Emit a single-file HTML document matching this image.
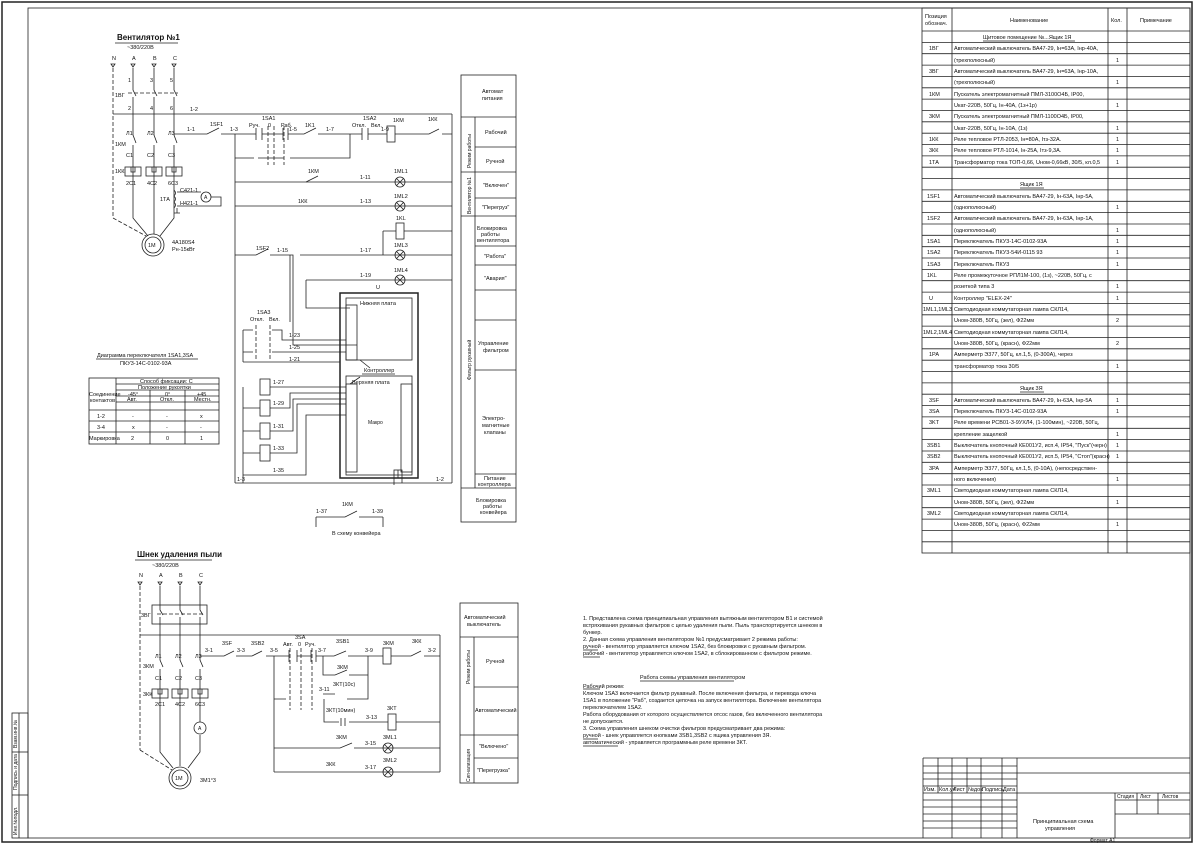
<!DOCTYPE html>
<html><head><meta charset="utf-8"><style>
html,body{margin:0;padding:0;background:#fff}
svg{display:block}
text{font-family:"Liberation Sans Narrow","Liberation Sans","DejaVu Sans",sans-serif;fill:#111;font-size:5.5px}
.t{font-size:5px}
.b{font-weight:bold;font-size:8px}
line,path,rect,circle,polyline{stroke:#222;stroke-width:0.8;fill:none}
.d{stroke-dasharray:4 2}
.th{stroke-width:1.5}
</style></head><body>
<svg width="1194" height="845" viewBox="0 0 1194 845" xmlns="http://www.w3.org/2000/svg">
<defs>
<g id="lamp"><circle r="5"/><line x1="-3.5" y1="-3.5" x2="3.5" y2="3.5"/><line x1="-3.5" y1="3.5" x2="3.5" y2="-3.5"/></g>
<g id="kk"><rect x="-8" y="-4" width="16" height="9"/><path d="M-2,-4 v5 h4 v-5"/></g>
<g id="tri"><path d="M-2,0 h4 l-2,3 z"/></g>
</defs>
<!-- frames -->
<rect x="2" y="2" width="1190" height="840" class="th"/>
<rect x="28" y="8" width="1162" height="830"/>
<!-- left stamp -->
<rect x="12" y="713" width="16" height="125"/><line x1="19" y1="713" x2="19" y2="838"/>
<line x1="12" y1="752" x2="28" y2="752"/><line x1="12" y1="795" x2="28" y2="795"/>
<text transform="translate(17,835) rotate(-90)" class="t">Инв.№подл.</text>
<text transform="translate(17,790) rotate(-90)" class="t">Подпись и дата</text>
<text transform="translate(17,748) rotate(-90)" class="t">Взам.инв.№</text>

<!-- ===== Upper circuit ===== -->
<text x="117" y="40" class="b" style="font-size:8px">Вентилятор №1</text>
<line x1="115" y1="43" x2="178" y2="43"/>
<text x="127" y="49">~380/220В</text>
<text x="112" y="60">N</text><text x="132" y="60">A</text><text x="153" y="60">B</text><text x="173" y="60">C</text>
<use href="#tri" x="113" y="64"/><use href="#tri" x="133" y="64"/><use href="#tri" x="154" y="64"/><use href="#tri" x="174" y="64"/>
<line x1="113" y1="68" x2="113" y2="218" class="d"/><line x1="113" y1="218" x2="146" y2="236" class="d"/>
<path d="M133,68 V90 l3,6 M133,97 V135 l3,8 M133,145 V218 L148,236"/>
<path d="M154,68 V90 l3,6 M154,97 V135 l3,8 M154,145 V234"/>
<path d="M174,68 V90 l3,6 M174,97 V135 l3,8 M174,145 V218 L160,236"/>
<line x1="128" y1="93" x2="178" y2="93" class="d"/>
<text x="115" y="97">1ВГ</text><text x="115" y="146">1КМ</text><text x="115" y="173">1КК</text>
<text x="128" y="82">1</text><text x="150" y="82">3</text><text x="170" y="82">5</text>
<text x="128" y="110">2</text><text x="150" y="110">4</text><text x="170" y="110">6</text>
<text x="126" y="135">Л1</text><text x="147" y="135">Л2</text><text x="168" y="135">Л3</text>
<text x="126" y="157">C1</text><text x="147" y="157">C2</text><text x="168" y="157">C3</text>
<use href="#kk" x="133" y="171"/><use href="#kk" x="154" y="171"/><use href="#kk" x="174" y="171"/>
<text x="126" y="185">2C1</text><text x="147" y="185">4C2</text><text x="168" y="185">6C3</text>
<circle cx="153" cy="245" r="11"/><circle cx="153" cy="245" r="8"/><text x="148" y="247">1M</text>
<text x="172" y="244">4А180S4</text><text x="172" y="251">Pн-15кВт</text>
<path d="M174,190 q3,3 0,6 q3,3 0,6 q3,3 0,6"/><text x="160" y="201">1ТА</text>
<circle cx="206" cy="197" r="5"/><text x="204" y="199" class="t">A</text>
<text x="180" y="192">С421-1</text><text x="180" y="205">Н421-1</text>
<path d="M177,192 H201 M211,197 H221 V206 H177 M177,208 V213 M174,213 h6"/>
<!-- bus -->
<line x1="113" y1="114" x2="452" y2="114"/><text x="190" y="111">1-2</text>
<line x1="452" y1="114" x2="452" y2="483"/>
<line x1="235" y1="134" x2="235" y2="483"/><line x1="235" y1="483" x2="452" y2="483"/>
<text x="237" y="481">1-3</text><text x="436" y="481">1-2</text>
<!-- row1 -->
<path d="M174,134 H207 l12,-6 M221,134 H256 M262,134 H283 M288,134 H304 l12,-6 M318,134 H362 M368,134 H387 M395,134 H429 l10,-5 M442,134 H452"/>
<path d="M256,128 v12 M262,128 v12 M283,128 v12 M288,128 v12 M362,128 v12 M368,128 v12"/>
<rect x="387" y="126" width="8" height="16"/>
<line x1="268" y1="126" x2="268" y2="165" class="d"/><line x1="274" y1="126" x2="274" y2="165" class="d"/><line x1="284" y1="126" x2="284" y2="165" class="d"/>
<text x="187" y="131">1-1</text><text x="210" y="126">1SF1</text><text x="230" y="131">1-3</text>
<text x="262" y="120">1SA1</text><text x="249" y="127">Руч.</text><text x="268" y="127">0</text><text x="281" y="127">Раб.</text>
<text x="289" y="131">1-5</text><text x="305" y="127">1K1</text><text x="326" y="131">1-7</text>
<text x="363" y="120">1SA2</text><text x="352" y="127">Откл.</text><text x="371" y="127">Вкл.</text><text x="381" y="131">1-9</text>
<text x="393" y="122">1КМ</text><text x="428" y="121">1КК</text>
<path d="M235,158 H254 M258,158 H284 M290,158 H350 V134"/>
<!-- row2 lamps -->
<line x1="235" y1="182" x2="452" y2="182"/>
<line x1="306" y1="182" x2="318" y2="176"/><text x="308" y="173">1КМ</text><text x="360" y="179">1-11</text>
<use href="#lamp" x="400" y="182"/><text x="394" y="173">1ML1</text>
<line x1="235" y1="206" x2="452" y2="206"/><text x="298" y="203">1КК</text><text x="360" y="203">1-13</text>
<use href="#lamp" x="400" y="206"/><text x="394" y="198">1ML2</text>
<path d="M383,231 H396 M404,231 H452 M383,231 V255"/><rect x="396" y="223" width="8" height="16"/><text x="396" y="220">1KL</text>
<path d="M235,255 H256 l12,-6 M270,255 H293 V345 H357 M300,255 H452"/><text x="256" y="250">1SF2</text><text x="277" y="252">1-15</text><text x="360" y="252">1-17</text>
<use href="#lamp" x="400" y="255"/><text x="394" y="247">1ML3</text>
<path d="M306,280 V308 H350 M306,280 H452"/><use href="#lamp" x="400" y="280"/><text x="394" y="272">1ML4</text><text x="360" y="277">1-19</text>
<text x="376" y="289">U</text>
<!-- controller -->
<rect x="340" y="293" width="78" height="185" class="th"/>
<rect x="346" y="298" width="66" height="62"/><text x="360" y="305">Нижняя плата</text>
<rect x="346" y="305" width="11" height="55"/>
<rect x="346" y="376" width="66" height="99"/><text x="352" y="384">Верхняя плата</text>
<text x="364" y="372">Контроллер</text><line x1="362" y1="374" x2="395" y2="374"/>
<rect x="346" y="384" width="11" height="88"/><rect x="401" y="384" width="11" height="88"/>
<path d="M360,360 L370,368 M350,384 L360,377"/>
<text x="368" y="424" class="t">Макро</text>
<rect x="394" y="470" width="8" height="8"/><line x1="398" y1="470" x2="398" y2="478"/>
<path d="M394,478 V485 M402,478 V483"/>
<!-- 1SA3 -->
<text x="257" y="314">1SA3</text><text x="250" y="321">Откл.</text><text x="269" y="321">Вкл.</text>
<path d="M243,330 H253 M243,330 V362 M243,352 H253 M243,362 H340"/>
<line x1="256" y1="325" x2="256" y2="360" class="d"/><line x1="270" y1="325" x2="270" y2="360" class="d"/>
<path d="M272,330 H282 V340 H346 M272,352 H346 M290,255 V322"/>
<text x="289" y="337">1-23</text><text x="289" y="349">1-25</text><text x="289" y="361">1-21</text>
<!-- relays -->
<path d="M243,387 V475 M243,408 H260 M243,431 H260 M243,453 H260"/>
<rect x="260" y="379" width="10" height="16"/><rect x="260" y="400" width="10" height="16"/><rect x="260" y="423" width="10" height="16"/><rect x="260" y="445" width="10" height="16"/>
<path d="M270,387 H346 M270,408 H290 V393 H346 M270,431 H293 V399 H346 M270,453 H297 V404 H346 M243,475 V483 M243,475 H306 V415 H346"/>
<text x="273" y="384">1-27</text><text x="273" y="405">1-29</text><text x="273" y="428">1-31</text><text x="273" y="450">1-33</text><text x="273" y="472">1-35</text>
<!-- to conveyor -->
<path d="M316,517 H345 l12,-6 M359,517 H383 M316,517 V527 M383,517 V527"/>
<text x="316" y="513">1-37</text><text x="342" y="506">1КМ</text><text x="372" y="513">1-39</text>
<text x="332" y="535">В схему конвейера</text>

<!-- diagram table -->
<text x="97" y="357">Диаграмма переключателя 1SA1,3SA</text><line x1="96" y1="359" x2="198" y2="359"/>
<text x="120" y="365">ПКУ3-14С-0102-93А</text>
<rect x="89" y="378" width="130" height="66"/>
<path d="M116,378 V444 M116,384 H219 M116,390 H219 M116,396 H219 M150,390 V444 M185,390 V444 M89,410 H219 M89,421 H219 M89,432 H219 M116,402 H219"/>
<text x="140" y="383">Способ фиксации: С</text><text x="138" y="389">Положение рукоятки</text>
<text x="89" y="396">Соединение</text><text x="90" y="402">контактов</text>
<text x="128" y="396">-45°</text><text x="165" y="396">0°</text><text x="197" y="396">+45</text>
<text x="127" y="401">Авт.</text><text x="160" y="401">Откл.</text><text x="194" y="401">Местн.</text>
<text x="97" y="418">1-2</text><text x="132" y="418">-</text><text x="166" y="418">-</text><text x="200" y="418">x</text>
<text x="97" y="429">3-4</text><text x="132" y="429">x</text><text x="166" y="429">-</text><text x="200" y="429">-</text>
<text x="89" y="440">Маркировка</text><text x="131" y="440">2</text><text x="166" y="440">0</text><text x="200" y="440">1</text>

<!-- upper panel -->
<rect x="461" y="75" width="55" height="447"/>
<path d="M461,117 H516 M475,117 V488 M475,147 H516 M461,172 H516 M475,198 H516 M461,216 H516 M475,246 H516 M475,265 H516 M475,290 H516 M475,320 H516 M475,370 H516 M475,474 H516 M461,488 H516"/>
<text x="482" y="93">Автомат</text><text x="482" y="100">питания</text>
<text x="485" y="134">Рабочий</text><text x="486" y="163">Ручной</text>
<text x="483" y="187">"Включен"</text><text x="482" y="209">"Перегруз"</text>
<text x="477" y="230">Блокировка</text><text x="481" y="236">работы</text><text x="477" y="242">вентилятора</text>
<text x="484" y="258">"Работа"</text><text x="484" y="280">"Авария"</text>
<text x="478" y="345">Управление</text><text x="483" y="352">фильтром</text>
<text x="482" y="420">Электро-</text><text x="482" y="427">магнитные</text><text x="484" y="434">клапаны</text>
<text x="484" y="480">Питание</text><text x="478" y="486">контроллера</text>
<text x="476" y="502">Блокировка</text><text x="483" y="508">работы</text><text x="480" y="514">конвейера</text>
<text transform="translate(471,168) rotate(-90)" class="t">Режим работы</text>
<text transform="translate(471,214) rotate(-90)" class="t">Вентилятор №1</text>
<text transform="translate(471,380) rotate(-90)" class="t">Фильтр рукавный</text>

<!-- ===== Lower circuit ===== -->
<text x="137" y="557" class="b">Шнек удаления пыли</text><line x1="135" y1="560" x2="212" y2="560"/>
<text x="152" y="567">~380/220В</text>
<text x="139" y="577">N</text><text x="159" y="577">A</text><text x="179" y="577">B</text><text x="199" y="577">C</text>
<use href="#tri" x="140" y="582"/><use href="#tri" x="160" y="582"/><use href="#tri" x="180" y="582"/><use href="#tri" x="200" y="582"/>
<rect x="152" y="605" width="55" height="19"/><line x1="157" y1="614" x2="203" y2="614" class="d"/>
<text x="141" y="617">3ВГ</text>
<line x1="140" y1="586" x2="140" y2="750" class="d"/><line x1="140" y1="750" x2="172" y2="770" class="d"/>
<path d="M160,586 V610 l3,5 M160,617 V660 l3,7 M160,669 V752 L173,768"/>
<path d="M180,586 V610 l3,5 M180,617 V660 l3,7 M180,669 V766"/>
<path d="M200,586 V610 l3,5 M200,617 V660 l3,7 M200,669 V722 M200,735 V752 L188,768"/>
<use href="#kk" x="160" y="693"/><use href="#kk" x="180" y="693"/><use href="#kk" x="200" y="693"/>
<circle cx="200" cy="728" r="6"/><text x="198" y="730" class="t">A</text>
<circle cx="180" cy="778" r="11"/><circle cx="180" cy="778" r="8"/><text x="175" y="780">1M</text>
<text x="200" y="782">3M1°3</text>
<text x="143" y="668">3КМ</text><text x="143" y="696">3КК</text>
<text x="155" y="658">Л1</text><text x="175" y="658">Л2</text><text x="195" y="658">Л3</text>
<text x="155" y="680">C1</text><text x="175" y="680">C2</text><text x="195" y="680">C3</text>
<text x="155" y="706">2C1</text><text x="175" y="706">4C2</text><text x="195" y="706">6C3</text>
<line x1="140" y1="635" x2="440" y2="635"/><line x1="440" y1="635" x2="440" y2="772"/>
<path d="M200,656 H224 l10,-5 M236,656 H252 l10,-5 M266,656 H289 M297,656 H311 M316,656 H334 l12,-5 M348,656 H383 M391,656 H411 l10,-5 M424,656 H440"/>
<path d="M289,650 v12 M297,650 v12 M311,650 v12 M316,650 v12"/>
<line x1="290" y1="648" x2="290" y2="710" class="d"/><line x1="301" y1="648" x2="301" y2="710" class="d"/><line x1="312" y1="648" x2="312" y2="710" class="d"/>
<rect x="383" y="648" width="8" height="16"/>
<text x="205" y="652">3-1</text><text x="222" y="645">3SF</text><text x="237" y="652">3-3</text><text x="251" y="645">3SB2</text><text x="270" y="652">3-5</text>
<text x="295" y="639">3SA</text><text x="283" y="646">Авт.</text><text x="298" y="646">0</text><text x="305" y="646">Руч.</text>
<text x="318" y="652">3-7</text><text x="336" y="643">3SB1</text><text x="365" y="652">3-9</text><text x="383" y="645">3КМ</text><text x="412" y="643">3КК</text><text x="428" y="652">3-2</text>
<path d="M274,656 V772 M274,699 H286 M323,656 V675 H335 l12,-5 M349,675 H368 V656 M368,675 V699 H347 M323,694 H335"/>
<text x="337" y="669">3КМ</text><text x="333" y="686">3КТ(10с)</text><text x="319" y="691">3-11</text>
<path d="M324,699 V722 H339 M349,722 H388 M396,722 H440"/><rect x="388" y="714" width="8" height="16"/>
<text x="326" y="712">3КТ(10мин)</text><text x="366" y="719">3-13</text><text x="387" y="710">3КТ</text>
<path d="M341,718 v8 M345,718 v8"/>
<path d="M274,748 H340 l12,-5 M354,748 H440"/><use href="#lamp" x="388" y="748"/><text x="336" y="739">3КМ</text><text x="365" y="745">3-15</text><text x="383" y="739">3ML1</text>
<path d="M274,772 H440"/><use href="#lamp" x="388" y="772"/><text x="326" y="766">3КК</text><text x="365" y="769">3-17</text><text x="383" y="762">3ML2</text>

<!-- lower panel -->
<rect x="460" y="603" width="58" height="180"/>
<path d="M460,637 H518 M474,637 V783 M474,687 H518 M460,735 H518 M474,758 H518"/>
<text x="464" y="619">Автоматический</text><text x="467" y="626">выключатель</text>
<text x="486" y="663">Ручной</text><text x="475" y="712">Автоматический</text>
<text x="479" y="748">"Включено"</text><text x="477" y="772">"Перегрузка"</text>
<text transform="translate(470,684) rotate(-90)" class="t">Режим работы</text>
<text transform="translate(470,782) rotate(-90)" class="t">Сигнализация</text>

<!-- notes -->
<g class="t">
<text x="583" y="620">1. Представлена схема принципиальная управления вытяжным вентилятором В1 и системой</text>
<text x="583" y="627">встряхивания рукавных фильтров с целью удаления пыли. Пыль транспортируется шнеком в</text>
<text x="583" y="634">бункер.</text>
<text x="583" y="641">2. Данная схема управления вентилятором №1 предусматривает 2 режима работы:</text>
<text x="583" y="648">ручной - вентилятор управляется ключом 1SA2, без блокировки с рукавным фильтром.</text>
<text x="583" y="655">рабочий - вентилятор управляется ключом 1SA2, в сблокированном с фильтром режиме.</text>
<text x="640" y="679">Работа схемы управления вентилятором</text>
<text x="583" y="688">Рабочий режим:</text>
<text x="583" y="695">Ключом 1SA3 включается фильтр рукавный. После включения фильтра, и перевода ключа</text>
<text x="583" y="702">1SA1 в положение "Раб", создается цепочка на запуск вентилятора. Включение вентилятора</text>
<text x="583" y="709">переключателем 1SA2.</text>
<text x="583" y="716">Работа оборудования от которого осуществляется отсос газов, без включенного вентилятора</text>
<text x="583" y="723">не допускается.</text>
<text x="583" y="730">3. Схема управления шнеком очистки фильтров предусматривает два режима:</text>
<text x="583" y="737">ручной - шнек управляется кнопками 3SB1,3SB2 с ящика управления 3Я.</text>
<text x="583" y="744">автоматический - управляется программным реле времени 3КТ.</text>
</g>
<path d="M640,681 H734 M583,689 H600 M583,650 H598 M583,657 H600 M583,739 H598 M583,746 H618"/>

<!-- title block -->
<path d="M923,758 V838 M1017,758 V838 M923,758 H1190 M923,773 H1190 M923,793 H1190"/>
<path d="M923,766 H1017 M923,779 H1017 M923,786 H1017 M923,800 H1017 M923,807 H1017 M923,814 H1017 M923,821 H1017 M923,828 H1017"/>
<path d="M938,758 V793 M952,758 V838 M967,758 V793 M981,758 V838 M1002,758 V838"/>
<path d="M1115,793 V838 M1137,793 V814 M1158,793 V814 M1115,800 H1190 M1115,814 H1190"/>
<g style="font-size:3.8px"><text x="924" y="791">Изм.</text><text x="939" y="791">Кол.уч</text><text x="953" y="791">Лист</text><text x="968" y="791">№док</text><text x="982" y="791">Подпись</text><text x="1003" y="791">Дата</text></g>
<text x="1117" y="798" class="t">Стадия</text><text x="1140" y="798" class="t">Лист</text><text x="1162" y="798" class="t">Листов</text>
<text x="1033" y="823">Принципиальная схема</text><text x="1045" y="830">управления</text>
<text x="1090" y="842" class="t">Формат А1</text>

<!-- spec table -->
<rect x="922" y="8" width="268" height="545"/>
<path d="M952,8 V553 M1108,8 V553 M1127,8 V553 M922,31 H1190"/>
<g style="stroke-width:0.5">
<path d="M922,42.4H1190M922,53.7H1190M922,65.1H1190M922,76.4H1190M922,87.8H1190M922,99.1H1190M922,110.5H1190M922,121.8H1190M922,133.2H1190M922,144.5H1190M922,155.9H1190M922,167.2H1190M922,178.6H1190M922,189.9H1190M922,201.3H1190M922,212.6H1190M922,224H1190M922,235.3H1190M922,246.7H1190M922,258H1190M922,269.4H1190M922,280.7H1190M922,292.1H1190M922,303.4H1190M922,314.8H1190M922,326.1H1190M922,337.5H1190M922,348.8H1190M922,360.2H1190M922,371.5H1190M922,382.9H1190M922,394.2H1190M922,405.6H1190M922,416.9H1190M922,428.3H1190M922,439.6H1190M922,451H1190M922,462.3H1190M922,473.7H1190M922,485H1190M922,496.4H1190M922,507.7H1190M922,519.1H1190M922,530.4H1190M922,541.8H1190"/>
</g>
<g class="t">
<text x="925" y="18">Позиция</text><text x="925" y="25">обознач.</text><text x="1010" y="22">Наименование</text><text x="1111" y="22">Кол.</text><text x="1140" y="22">Примечание</text>
<text x="983" y="39">Щитовое помещение №...Ящик 1Я</text>
<text x="929" y="50">1ВГ</text><text x="954" y="50">Автоматический выключатель ВА47-29, Iн=63А, Iнр-40А,</text>
<text x="954" y="62">(трехполюсный)</text><text x="1116" y="62">1</text>
<text x="929" y="73">3ВГ</text><text x="954" y="73">Автоматический выключатель ВА47-29, Iн=63А, Iнр-10А,</text>
<text x="954" y="84">(трехполюсный)</text><text x="1116" y="84">1</text>
<text x="929" y="96">1КМ</text><text x="954" y="96">Пускатель электромагнитный ПМЛ-3100О4Б, IP00,</text>
<text x="954" y="107">Uкат-220В, 50Гц, Iн-40А, (1з+1р)</text><text x="1116" y="107">1</text>
<text x="929" y="118">3КМ</text><text x="954" y="118">Пускатель электромагнитный ПМЛ-1100О4Б, IP00,</text>
<text x="954" y="130">Uкат-220В, 50Гц, Iн-10А, (1з)</text><text x="1116" y="130">1</text>
<text x="929" y="141">1КК</text><text x="954" y="141">Реле тепловое РТЛ-2053, Iн=80А, Iтз-32А.</text><text x="1116" y="141">1</text>
<text x="929" y="152">3КК</text><text x="954" y="152">Реле тепловое РТЛ-1014, Iн-25А, Iтз-9,3А.</text><text x="1116" y="152">1</text>
<text x="929" y="164">1ТА</text><text x="954" y="164">Трансформатор тока ТОП-0,66, Uном-0,66кВ, 30/5, кл.0,5</text><text x="1116" y="164">1</text>
<text x="1020" y="186">Ящик 1Я</text>
<text x="927" y="198">1SF1</text><text x="954" y="198">Автоматический выключатель ВА47-29, Iн-63А, Iнр-5А,</text>
<text x="954" y="209">(однополюсный)</text><text x="1116" y="209">1</text>
<text x="927" y="220">1SF2</text><text x="954" y="220">Автоматический выключатель ВА47-29, Iн-63А, Iнр-1А,</text>
<text x="954" y="232">(однополюсный)</text><text x="1116" y="232">1</text>
<text x="927" y="243">1SA1</text><text x="954" y="243">Переключатель ПКУ3-14С-0102-93А</text><text x="1116" y="243">1</text>
<text x="927" y="254">1SA2</text><text x="954" y="254">Переключатель ПКУ3-54И-0115 93</text><text x="1116" y="254">1</text>
<text x="927" y="266">1SA3</text><text x="954" y="266">Переключатель ПКУ3</text><text x="1116" y="266">1</text>
<text x="927" y="277">1KL</text><text x="954" y="277">Реле промежуточное РПЛ1М-100, (1з), ~220В, 50Гц, с</text>
<text x="954" y="288">розеткой типа 3</text><text x="1116" y="288">1</text>
<text x="929" y="300">U</text><text x="954" y="300">Контроллер "ELEX-24"</text><text x="1116" y="300">1</text>
<text x="923" y="311">1ML1,1ML3</text><text x="954" y="311">Светодиодная коммутаторная лампа СКЛ14,</text>
<text x="954" y="322">Uном-380В, 50Гц, (зел), Ф22мм</text><text x="1116" y="322">2</text>
<text x="923" y="334">1ML2,1ML4</text><text x="954" y="334">Светодиодная коммутаторная лампа СКЛ14,</text>
<text x="954" y="345">Uном-380В, 50Гц, (красн), Ф22мм</text><text x="1116" y="345">2</text>
<text x="929" y="356">1PA</text><text x="954" y="356">Амперметр Э377, 50Гц, кл.1,5, (0-300А), через</text>
<text x="954" y="368">трансформатор тока 30/5</text><text x="1116" y="368">1</text>
<text x="1020" y="390">Ящик 3Я</text>
<text x="929" y="402">3SF</text><text x="954" y="402">Автоматический выключатель ВА47-29, Iн-63А, Iнр-5А</text><text x="1116" y="402">1</text>
<text x="929" y="413">3SA</text><text x="954" y="413">Переключатель ПКУ3-14С-0102-93А</text><text x="1116" y="413">1</text>
<text x="929" y="424">3KT</text><text x="954" y="424">Реле времени РСВ01-3-9УХЛ4, (1-100мин), ~220В, 50Гц,</text>
<text x="954" y="436">крепление защелкой</text><text x="1116" y="436">1</text>
<text x="927" y="447">3SB1</text><text x="954" y="447">Выключатель кнопочный КЕ001У2, исп.4, IP54, "Пуск"(черн)</text><text x="1116" y="447">1</text>
<text x="927" y="458">3SB2</text><text x="954" y="458">Выключатель кнопочный КЕ001У2, исп.5, IP54, "Стоп"(красн)</text><text x="1116" y="458">1</text>
<text x="929" y="470">3PA</text><text x="954" y="470">Амперметр Э377, 50Гц, кл.1,5, (0-10А), (непосредствен-</text>
<text x="954" y="481">ного включения)</text><text x="1116" y="481">1</text>
<text x="927" y="492">3ML1</text><text x="954" y="492">Светодиодная коммутаторная лампа СКЛ14,</text>
<text x="954" y="504">Uном-380В, 50Гц, (зел), Ф22мм</text><text x="1116" y="504">1</text>
<text x="927" y="515">3ML2</text><text x="954" y="515">Светодиодная коммутаторная лампа СКЛ14,</text>
<text x="954" y="526">Uном-380В, 50Гц, (красн), Ф22мм</text><text x="1116" y="526">1</text>
</g>
<path d="M983,41 H1075 M1020,188 H1044 M1020,392 H1044"/>
</svg>
</body></html>
